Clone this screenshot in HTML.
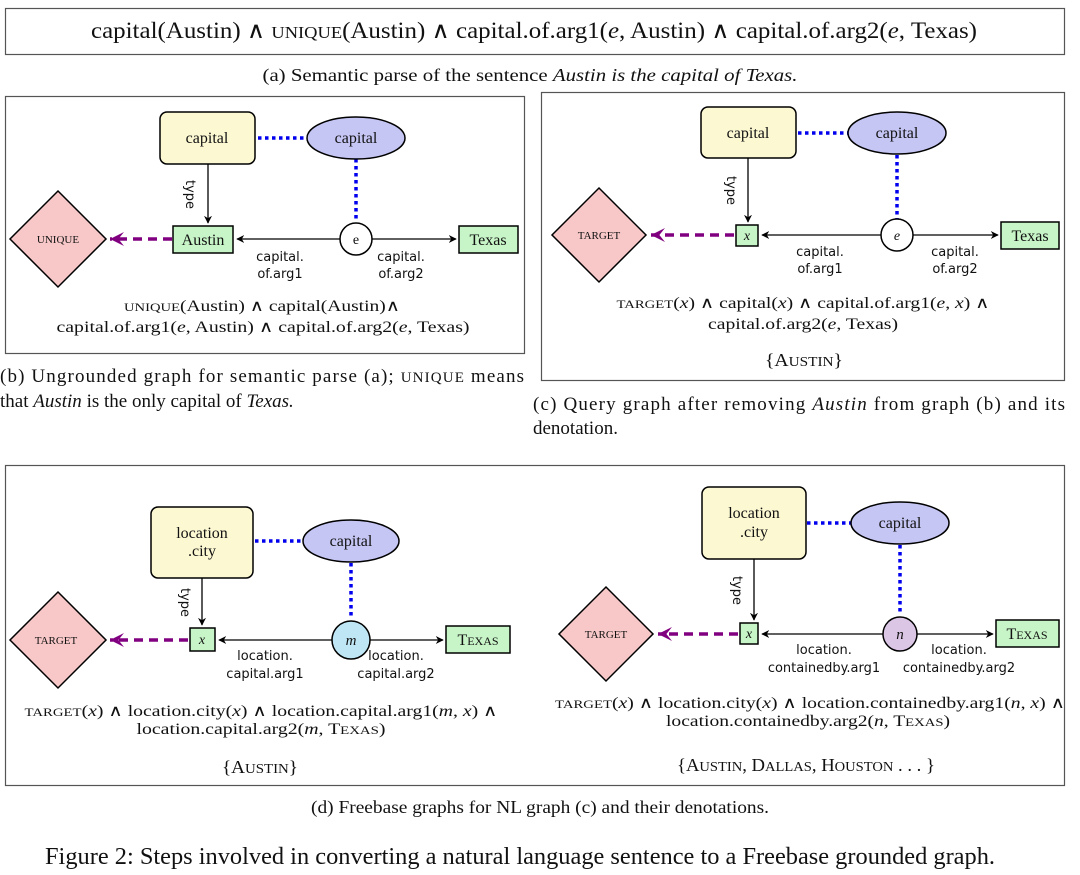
<!DOCTYPE html>
<html><head><meta charset="utf-8"><style>
html,body{margin:0;padding:0;background:#fff;}
svg{display:block;}
.s{font-family:"Liberation Serif",serif;fill:#111;}
.a{font-family:"DejaVu Sans","Liberation Sans",sans-serif;fill:#111;font-size:13px;}
</style></head><body>
<svg width="1080" height="875" viewBox="0 0 1080 875" xmlns="http://www.w3.org/2000/svg">
<defs>
<marker id="ar" viewBox="0 0 10 10" refX="9" refY="5" markerWidth="8" markerHeight="8" orient="auto" markerUnits="userSpaceOnUse"><path d="M0,0 L10,5 L0,10 L3,5z" fill="#000"/></marker>
<marker id="pa" viewBox="0 0 10 10" refX="10" refY="5" markerWidth="14" markerHeight="14" orient="auto" markerUnits="userSpaceOnUse"><path d="M10,5 L0,0 L4,5 L0,10z" fill="#800080"/></marker>
</defs>
<!-- (a) -->
<rect x="5.5" y="8.5" width="1059" height="46" fill="#fff" stroke="#555" stroke-width="1.2"/>
<text class="s" x="534" y="38" font-size="23" text-anchor="middle" textLength="886" lengthAdjust="spacingAndGlyphs">capital(Austin) ∧ <tspan font-size="17">UNIQUE</tspan>(Austin) ∧ capital.of.arg1(<tspan font-style="italic">e</tspan>, Austin) ∧ capital.of.arg2(<tspan font-style="italic">e</tspan>, Texas)</text>
<text class="s" x="530" y="81" font-size="18" text-anchor="middle" textLength="535" lengthAdjust="spacingAndGlyphs">(a) Semantic parse of the sentence <tspan font-style="italic">Austin is the capital of Texas.</tspan></text>

<!-- (b) -->
<rect x="5.5" y="96.5" width="519" height="257" fill="none" stroke="#555" stroke-width="1.2"/>
<line x1="258" y1="138" x2="307" y2="138" stroke="#0000ee" stroke-width="3.5" stroke-dasharray="3.5,3.5"/>
<line x1="356" y1="159" x2="356" y2="222" stroke="#0000ee" stroke-width="3.5" stroke-dasharray="3.5,3.5"/>
<rect x="160" y="112" width="95" height="52" rx="7" fill="#fcf8d2" stroke="#000" stroke-width="1.5"/>
<text class="s" x="207" y="143" font-size="16" text-anchor="middle">capital</text>
<ellipse cx="356" cy="138" rx="49" ry="21" fill="#c6c6f5" stroke="#000" stroke-width="1.5"/>
<text class="s" x="356" y="143" font-size="16" text-anchor="middle">capital</text>
<line x1="208" y1="164" x2="208" y2="223" stroke="#000" stroke-width="1.3" marker-end="url(#ar)"/>
<text class="a" transform="translate(186,180) rotate(90)">type</text>
<polygon points="58,191 106,239 58,287 10,239" fill="#f8c8c8" stroke="#000" stroke-width="1.5"/>
<text class="s" x="58" y="243" font-size="11" text-anchor="middle">UNIQUE</text>
<line x1="172" y1="239" x2="110" y2="239" stroke="#800080" stroke-width="3.5" stroke-dasharray="9,6" marker-end="url(#pa)"/>
<rect x="173" y="226" width="60" height="27" fill="#c8f5c8" stroke="#000" stroke-width="1.5"/>
<text class="s" x="203" y="245" font-size="16" text-anchor="middle">Austin</text>
<line x1="340" y1="239" x2="237" y2="239" stroke="#000" stroke-width="1.3" marker-end="url(#ar)"/>
<line x1="372" y1="239" x2="456" y2="239" stroke="#000" stroke-width="1.3" marker-end="url(#ar)"/>
<circle cx="356" cy="239" r="16" fill="#fff" stroke="#000" stroke-width="1.5"/>
<text class="s" x="356" y="244" font-size="14" text-anchor="middle">e</text>
<rect x="459" y="226" width="59" height="27" fill="#c8f5c8" stroke="#000" stroke-width="1.5"/>
<text class="s" x="488" y="245" font-size="16" text-anchor="middle">Texas</text>
<text class="a" x="280" y="261" text-anchor="middle">capital.</text>
<text class="a" x="280" y="278" text-anchor="middle">of.arg1</text>
<text class="a" x="401" y="261" text-anchor="middle">capital.</text>
<text class="a" x="401" y="278" text-anchor="middle">of.arg2</text>
<text class="s" x="262" y="311" font-size="16" text-anchor="middle" textLength="276" lengthAdjust="spacingAndGlyphs"><tspan font-size="12">UNIQUE</tspan>(Austin) ∧ capital(Austin)∧</text>
<text class="s" x="263" y="332" font-size="16" text-anchor="middle" textLength="413" lengthAdjust="spacingAndGlyphs">capital.of.arg1(<tspan font-style="italic">e</tspan>, Austin) ∧ capital.of.arg2(<tspan font-style="italic">e</tspan>, Texas)</text>
<text class="s" x="0" y="382" font-size="19" textLength="524" lengthAdjust="spacing">(b) Ungrounded graph for semantic parse (a); <tspan font-size="15">UNIQUE</tspan> means</text>
<text class="s" x="0" y="407" font-size="19">that <tspan font-style="italic">Austin</tspan> is the only capital of <tspan font-style="italic">Texas.</tspan></text>

<!-- (c) -->
<rect x="541.5" y="92.5" width="523" height="288" fill="none" stroke="#555" stroke-width="1.2"/>
<line x1="798" y1="133" x2="848" y2="133" stroke="#0000ee" stroke-width="3.5" stroke-dasharray="3.5,3.5"/>
<line x1="897" y1="155" x2="897" y2="219" stroke="#0000ee" stroke-width="3.5" stroke-dasharray="3.5,3.5"/>
<rect x="701" y="107" width="95" height="51" rx="7" fill="#fcf8d2" stroke="#000" stroke-width="1.5"/>
<text class="s" x="748" y="138" font-size="16" text-anchor="middle">capital</text>
<ellipse cx="897" cy="133" rx="49" ry="21" fill="#c6c6f5" stroke="#000" stroke-width="1.5"/>
<text class="s" x="897" y="138" font-size="16" text-anchor="middle">capital</text>
<line x1="748" y1="158" x2="748" y2="222" stroke="#000" stroke-width="1.3" marker-end="url(#ar)"/>
<text class="a" transform="translate(727,176) rotate(90)">type</text>
<polygon points="599,188 646,235 599,282 552,235" fill="#f8c8c8" stroke="#000" stroke-width="1.5"/>
<text class="s" x="599" y="239" font-size="11" text-anchor="middle">TARGET</text>
<line x1="734" y1="235" x2="651" y2="235" stroke="#800080" stroke-width="3.5" stroke-dasharray="9,6" marker-end="url(#pa)"/>
<rect x="736" y="225" width="22" height="21" fill="#c8f5c8" stroke="#000" stroke-width="1.5"/>
<text class="s" x="747" y="240" font-size="14" font-style="italic" text-anchor="middle">x</text>
<line x1="881" y1="235" x2="762" y2="235" stroke="#000" stroke-width="1.3" marker-end="url(#ar)"/>
<line x1="913" y1="235" x2="998" y2="235" stroke="#000" stroke-width="1.3" marker-end="url(#ar)"/>
<circle cx="897" cy="235" r="16" fill="#fff" stroke="#000" stroke-width="1.5"/>
<text class="s" x="897" y="240" font-size="14" font-style="italic" text-anchor="middle">e</text>
<rect x="1001" y="222" width="58" height="27" fill="#c8f5c8" stroke="#000" stroke-width="1.5"/>
<text class="s" x="1030" y="241" font-size="16" text-anchor="middle">Texas</text>
<text class="a" x="820" y="256" text-anchor="middle">capital.</text>
<text class="a" x="820" y="273" text-anchor="middle">of.arg1</text>
<text class="a" x="955" y="256" text-anchor="middle">capital.</text>
<text class="a" x="955" y="273" text-anchor="middle">of.arg2</text>
<text class="s" x="803" y="308" font-size="16" text-anchor="middle" textLength="373" lengthAdjust="spacingAndGlyphs"><tspan font-size="12">TARGET</tspan>(<tspan font-style="italic">x</tspan>) ∧ capital(<tspan font-style="italic">x</tspan>) ∧ capital.of.arg1(<tspan font-style="italic">e</tspan>, <tspan font-style="italic">x</tspan>) ∧</text>
<text class="s" x="803" y="329" font-size="16" text-anchor="middle" textLength="190" lengthAdjust="spacingAndGlyphs">capital.of.arg2(<tspan font-style="italic">e</tspan>, Texas)</text>
<text class="s" x="804" y="366" font-size="18" text-anchor="middle" textLength="78" lengthAdjust="spacingAndGlyphs">{A<tspan font-size="14">USTIN</tspan>}</text>
<text class="s" x="533" y="410" font-size="19" textLength="532" lengthAdjust="spacing">(c) Query graph after removing <tspan font-style="italic">Austin</tspan> from graph (b) and its</text>
<text class="s" x="533" y="434" font-size="19">denotation.</text>

<!-- (d) -->
<rect x="5.5" y="465.5" width="1059" height="320" fill="none" stroke="#555" stroke-width="1.2"/>
<line x1="255" y1="541" x2="303" y2="541" stroke="#0000ee" stroke-width="3.5" stroke-dasharray="3.5,3.5"/>
<line x1="351" y1="563" x2="351" y2="619" stroke="#0000ee" stroke-width="3.5" stroke-dasharray="3.5,3.5"/>
<rect x="151" y="507" width="102" height="71" rx="7" fill="#fcf8d2" stroke="#000" stroke-width="1.5"/>
<text class="s" x="202" y="538" font-size="16" text-anchor="middle">location</text>
<text class="s" x="202" y="556" font-size="16" text-anchor="middle">.city</text>
<ellipse cx="351" cy="541" rx="48" ry="21" fill="#c6c6f5" stroke="#000" stroke-width="1.5"/>
<text class="s" x="351" y="546" font-size="16" text-anchor="middle">capital</text>
<line x1="202" y1="578" x2="202" y2="625" stroke="#000" stroke-width="1.3" marker-end="url(#ar)"/>
<text class="a" transform="translate(181,588) rotate(90)">type</text>
<polygon points="58,592 106,640 58,688 10,640" fill="#f8c8c8" stroke="#000" stroke-width="1.5"/>
<text class="s" x="56" y="644" font-size="11" text-anchor="middle">TARGET</text>
<line x1="188" y1="640" x2="110" y2="640" stroke="#800080" stroke-width="3.5" stroke-dasharray="9,6" marker-end="url(#pa)"/>
<rect x="190" y="628" width="25" height="23" fill="#c8f5c8" stroke="#000" stroke-width="1.5"/>
<text class="s" x="202" y="644" font-size="14" font-style="italic" text-anchor="middle">x</text>
<line x1="332" y1="640" x2="219" y2="640" stroke="#000" stroke-width="1.3" marker-end="url(#ar)"/>
<line x1="369" y1="640" x2="443" y2="640" stroke="#000" stroke-width="1.3" marker-end="url(#ar)"/>
<circle cx="351" cy="640" r="19" fill="#bfe6f5" stroke="#000" stroke-width="1.5"/>
<text class="s" x="351" y="645" font-size="15" font-style="italic" text-anchor="middle">m</text>
<rect x="446" y="626" width="64" height="27" fill="#c8f5c8" stroke="#000" stroke-width="1.5"/>
<text class="s" x="478" y="645" font-size="16" text-anchor="middle">T<tspan font-size="12">EXAS</tspan></text>
<text class="a" x="265" y="660" text-anchor="middle">location.</text>
<text class="a" x="265" y="678" text-anchor="middle">capital.arg1</text>
<text class="a" x="396" y="660" text-anchor="middle">location.</text>
<text class="a" x="396" y="678" text-anchor="middle">capital.arg2</text>
<text class="s" x="261" y="716" font-size="16" text-anchor="middle" textLength="473" lengthAdjust="spacingAndGlyphs"><tspan font-size="12">TARGET</tspan>(<tspan font-style="italic">x</tspan>) ∧ location.city(<tspan font-style="italic">x</tspan>) ∧ location.capital.arg1(<tspan font-style="italic">m</tspan>, <tspan font-style="italic">x</tspan>) ∧</text>
<text class="s" x="261" y="734" font-size="16" text-anchor="middle" textLength="249" lengthAdjust="spacingAndGlyphs">location.capital.arg2(<tspan font-style="italic">m</tspan>, T<tspan font-size="12">EXAS</tspan>)</text>
<text class="s" x="260" y="773" font-size="18" text-anchor="middle" textLength="76" lengthAdjust="spacingAndGlyphs">{A<tspan font-size="14">USTIN</tspan>}</text>
<line x1="807" y1="523" x2="853" y2="523" stroke="#0000ee" stroke-width="3.5" stroke-dasharray="3.5,3.5"/>
<line x1="900" y1="545" x2="900" y2="615" stroke="#0000ee" stroke-width="3.5" stroke-dasharray="3.5,3.5"/>
<rect x="702" y="487" width="104" height="72" rx="7" fill="#fcf8d2" stroke="#000" stroke-width="1.5"/>
<text class="s" x="754" y="518" font-size="16" text-anchor="middle">location</text>
<text class="s" x="754" y="537" font-size="16" text-anchor="middle">.city</text>
<ellipse cx="900" cy="523" rx="49" ry="21" fill="#c6c6f5" stroke="#000" stroke-width="1.5"/>
<text class="s" x="900" y="528" font-size="16" text-anchor="middle">capital</text>
<line x1="754" y1="559" x2="754" y2="620" stroke="#000" stroke-width="1.3" marker-end="url(#ar)"/>
<text class="a" transform="translate(733,576) rotate(90)">type</text>
<polygon points="606,587 653,634 606,681 559,634" fill="#f8c8c8" stroke="#000" stroke-width="1.5"/>
<text class="s" x="606" y="638" font-size="11" text-anchor="middle">TARGET</text>
<line x1="738" y1="634" x2="658" y2="634" stroke="#800080" stroke-width="3.5" stroke-dasharray="9,6" marker-end="url(#pa)"/>
<rect x="740" y="623" width="18" height="21" fill="#c8f5c8" stroke="#000" stroke-width="1.5"/>
<text class="s" x="749" y="638" font-size="14" font-style="italic" text-anchor="middle">x</text>
<line x1="883" y1="634" x2="762" y2="634" stroke="#000" stroke-width="1.3" marker-end="url(#ar)"/>
<line x1="917" y1="634" x2="993" y2="634" stroke="#000" stroke-width="1.3" marker-end="url(#ar)"/>
<circle cx="900" cy="634" r="17" fill="#dcc6e6" stroke="#000" stroke-width="1.5"/>
<text class="s" x="900" y="639" font-size="15" font-style="italic" text-anchor="middle">n</text>
<rect x="996" y="620" width="63" height="27" fill="#c8f5c8" stroke="#000" stroke-width="1.5"/>
<text class="s" x="1027" y="639" font-size="16" text-anchor="middle">T<tspan font-size="12">EXAS</tspan></text>
<text class="a" x="824" y="654" text-anchor="middle">location.</text>
<text class="a" x="824" y="672" text-anchor="middle">containedby.arg1</text>
<text class="a" x="959" y="654" text-anchor="middle">location.</text>
<text class="a" x="959" y="672" text-anchor="middle">containedby.arg2</text>
<text class="s" x="810" y="708" font-size="16" text-anchor="middle" textLength="510" lengthAdjust="spacingAndGlyphs"><tspan font-size="12">TARGET</tspan>(<tspan font-style="italic">x</tspan>) ∧ location.city(<tspan font-style="italic">x</tspan>) ∧ location.containedby.arg1(<tspan font-style="italic">n</tspan>, <tspan font-style="italic">x</tspan>) ∧</text>
<text class="s" x="808" y="726" font-size="16" text-anchor="middle" textLength="284" lengthAdjust="spacingAndGlyphs">location.containedby.arg2(<tspan font-style="italic">n</tspan>, T<tspan font-size="12">EXAS</tspan>)</text>
<text class="s" x="806" y="771" font-size="18" text-anchor="middle" textLength="258" lengthAdjust="spacingAndGlyphs">{A<tspan font-size="14">USTIN</tspan>, D<tspan font-size="14">ALLAS</tspan>, H<tspan font-size="14">OUSTON</tspan> . . . }</text>

<text class="s" x="540" y="813" font-size="18" text-anchor="middle" textLength="458" lengthAdjust="spacingAndGlyphs">(d) Freebase graphs for NL graph (c) and their denotations.</text>
<text class="s" x="520" y="864" font-size="24" text-anchor="middle" textLength="950" lengthAdjust="spacingAndGlyphs">Figure 2: Steps involved in converting a natural language sentence to a Freebase grounded graph.</text>
</svg>
</body></html>
